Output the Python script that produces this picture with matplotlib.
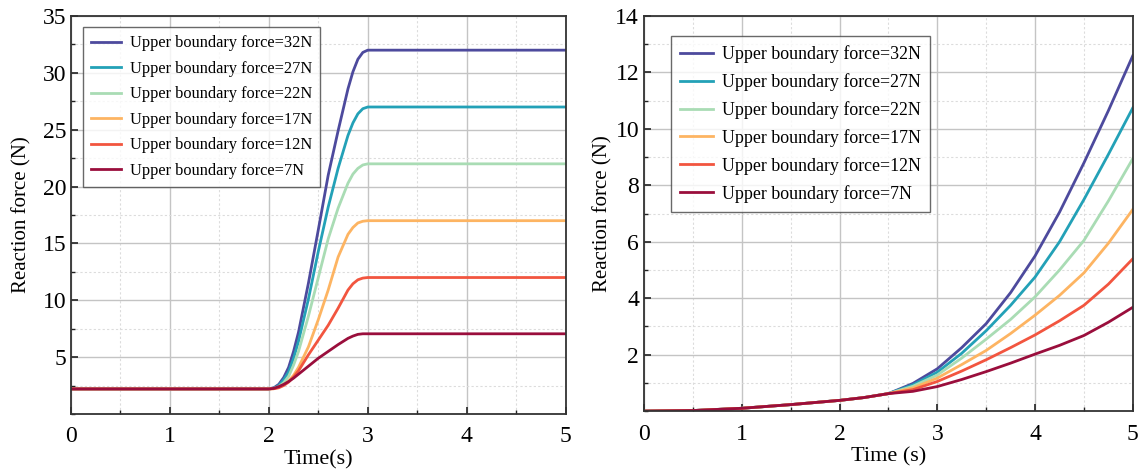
import numpy as np
import matplotlib.pyplot as plt
from matplotlib.ticker import MultipleLocator

plt.rcParams['font.family'] = ['Liberation Serif', 'DejaVu Serif']

# series labels and colours (largest force first, as in the legend)
forces = [32, 27, 22, 17, 12, 7]
colors = ['#4D4A9D', '#23A1B7', '#A9DCB4', '#FDB462', '#F2553F', '#9A0E3C']

# left panel: reaction force over time
t_left = [0.0, 2.0, 2.05, 2.1, 2.15, 2.2, 2.25, 2.3, 2.4, 2.5, 2.6, 2.7, 2.8, 2.85, 2.9, 2.95, 3.0, 5.0]
f32_left = [2.2, 2.2, 2.3, 2.6, 3.2, 4.1, 5.5, 7.2, 11.5, 16.2, 21.0, 24.9, 28.6, 30.1, 31.2, 31.8, 32.0, 32.0]
f27_left = [2.2, 2.2, 2.25, 2.5, 3.0, 3.7, 4.9, 6.4, 10.1, 14.3, 18.2, 21.6, 24.5, 25.6, 26.4, 26.85, 27.0, 27.0]
f22_left = [2.2, 2.2, 2.25, 2.4, 2.75, 3.3, 4.3, 5.5, 8.6, 12.0, 15.4, 18.1, 20.3, 21.1, 21.6, 21.9, 22.0, 22.0]
f17_left = [2.2, 2.2, 2.22, 2.35, 2.55, 2.9, 3.4, 4.1, 5.9, 8.3, 10.9, 13.8, 15.8, 16.4, 16.8, 16.95, 17.0, 17.0]
f12_left = [2.2, 2.2, 2.22, 2.3, 2.5, 2.8, 3.25, 3.8, 5.2, 6.5, 7.8, 9.3, 10.9, 11.45, 11.8, 11.95, 12.0, 12.0]
f7_left = [2.2, 2.2, 2.25, 2.4, 2.6, 2.85, 3.15, 3.5, 4.2, 4.9, 5.5, 6.1, 6.65, 6.85, 7.0, 7.05, 7.05, 7.05]

# right panel
t_right = [0.0, 0.5, 1.0, 1.5, 2.0, 2.25, 2.5, 2.75, 3.0, 3.25, 3.5, 3.75, 4.0, 4.25, 4.5, 4.75, 5.0]
f32_right = [0, 0.02, 0.1, 0.23, 0.38, 0.48, 0.62, 0.98, 1.5, 2.25, 3.1, 4.2, 5.5, 7.05, 8.8, 10.65, 12.6]
f27_right = [0, 0.02, 0.1, 0.23, 0.38, 0.48, 0.62, 0.93, 1.38, 2.05, 2.85, 3.75, 4.75, 6.0, 7.5, 9.1, 10.75]
f22_right = [0, 0.02, 0.1, 0.23, 0.38, 0.48, 0.62, 0.88, 1.28, 1.88, 2.55, 3.25, 4.05, 5.0, 6.05, 7.45, 8.95]
f17_right = [0, 0.02, 0.1, 0.23, 0.38, 0.48, 0.62, 0.82, 1.17, 1.65, 2.15, 2.75, 3.4, 4.1, 4.9, 5.95, 7.15]
f12_right = [0, 0.02, 0.1, 0.23, 0.38, 0.48, 0.62, 0.76, 1.05, 1.42, 1.82, 2.25, 2.7, 3.2, 3.75, 4.5, 5.4]
f7_right = [0, 0.02, 0.1, 0.23, 0.38, 0.48, 0.62, 0.7, 0.87, 1.12, 1.4, 1.7, 2.02, 2.33, 2.68, 3.15, 3.68]

left_series = [f32_left, f27_left, f22_left, f17_left, f12_left, f7_left]
right_series = [f32_right, f27_right, f22_right, f17_right, f12_right, f7_right]

fig = plt.figure(figsize=(11.45, 4.72), dpi=100)
ax1 = fig.add_axes([0.062, 0.123, 0.432, 0.843])
ax2 = fig.add_axes([0.5624, 0.129, 0.427, 0.837])


def style(ax, ymax, ystep, xlabel, legsize, anchor, spacing, ylpad):
    ax.set_xlim(0, 5)
    ax.set_ylim(0, ymax)
    ax.set_xticks(range(0, 6))
    ax.set_yticks(np.arange(ystep, ymax + 0.01, ystep))
    ax.xaxis.set_minor_locator(MultipleLocator(0.5))
    ax.yaxis.set_minor_locator(MultipleLocator(ystep / 2))
    ax.grid(which='major', color='#c4c4c4', lw=1.0)
    ax.grid(which='minor', color='#dcdcdc', lw=0.8, ls=(0, (2, 2)))
    ax.set_axisbelow(True)
    ax.tick_params(axis='x', which='major', pad=9)
    ax.tick_params(which='major', direction='in', length=5, width=1.2,
                   labelsize=17, colors='#222222', labelcolor='black')
    ax.tick_params(which='minor', direction='in', length=3, width=1.0, colors='#222222')
    for s in ax.spines.values():
        s.set_linewidth(1.3)
        s.set_color('#333333')
    ax.set_xlabel(xlabel, fontsize=16, labelpad=2)
    ax.set_ylabel('Reaction force (N)', fontsize=15, labelpad=ylpad)
    leg = ax.legend(loc='upper left', bbox_to_anchor=anchor, borderaxespad=0,
                    fontsize=legsize, fancybox=False, handlelength=1.8,
                    labelspacing=spacing, borderpad=0.5, handletextpad=0.55)
    leg.get_frame().set_edgecolor('#444444')
    leg.get_frame().set_linewidth(1.0)


for vals, f, c in zip(left_series, forces, colors):
    ax1.plot(t_left, vals, color=c, lw=2, label='Upper boundary force=%dN' % f)
for vals, f, c in zip(right_series, forces, colors):
    ax2.plot(t_right, vals, color=c, lw=2, label='Upper boundary force=%dN' % f)

style(ax1, 35, 5, 'Time(s)', 11.8, (0.024, 0.972), 0.58, 8)
style(ax2, 14, 2, 'Time (s)', 12.9, (0.056, 0.949), 0.56, 2)

fig.savefig('out.png', dpi=100)
